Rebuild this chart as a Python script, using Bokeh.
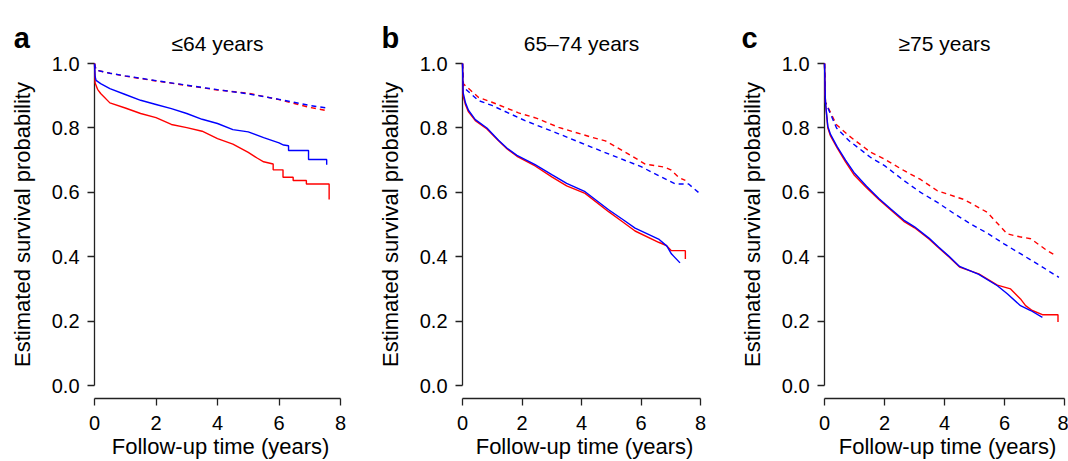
from bokeh.plotting import figure
from bokeh.layouts import row
from bokeh.models import Label, FixedTicker, Range1d, PrintfTickFormatter
from bokeh.embed import file_html
from bokeh.resources import INLINE

# ---------------- data ----------------
panel_letters = ["a", "b", "c"]
panel_titles = ["\u226464 years", "65\u201374 years", "\u226575 years"]
x_title = "Follow-up time (years)"
y_title = "Estimated survival probability"
x_ticks = [0, 2, 4, 6, 8]
y_ticks = [0.0, 0.2, 0.4, 0.6, 0.8, 1.0]

# panel a (<=64)
a_red_t = [0, 0.02, 0.1, 0.2, 0.5, 1, 1.5, 2, 2.5, 3, 3.5, 4, 4.5, 5, 5.3, 5.5, 5.81, 5.81, 6.13, 6.13, 6.46, 6.46, 6.89, 6.89, 7.63, 7.63]
a_red_s = [1.0, 0.94, 0.92, 0.907, 0.878, 0.862, 0.845, 0.832, 0.811, 0.801, 0.790, 0.767, 0.750, 0.724, 0.706, 0.695, 0.688, 0.670, 0.670, 0.647, 0.647, 0.637, 0.637, 0.626, 0.626, 0.578]
a_blue_t = [0, 0.02, 0.05, 0.2, 0.5, 1, 1.5, 2, 2.5, 3, 3.5, 4, 4.5, 5, 5.5, 6, 6.15, 6.31, 6.31, 6.96, 6.96, 7.55, 7.55]
a_blue_s = [1.0, 0.96, 0.948, 0.938, 0.922, 0.904, 0.886, 0.873, 0.860, 0.845, 0.827, 0.814, 0.795, 0.788, 0.770, 0.754, 0.747, 0.745, 0.730, 0.730, 0.702, 0.702, 0.686]
a_red_exp_t = [0, 0.05, 0.5, 1, 2, 3, 4, 5, 6, 7, 7.6]
a_red_exp_s = [1.0, 0.98, 0.97, 0.961, 0.946, 0.932, 0.918, 0.908, 0.888, 0.864, 0.853]
a_blue_exp_t = [0, 0.05, 0.5, 1, 2, 3, 4, 5, 6, 7, 7.55]
a_blue_exp_s = [1.0, 0.98, 0.97, 0.962, 0.947, 0.933, 0.919, 0.906, 0.889, 0.870, 0.862]

# panel b (65-74)
b_red_t = [0, 0.02, 0.1, 0.2, 0.43, 0.82, 1.21, 1.5, 1.83, 2.44, 3.0, 3.5, 4.12, 4.91, 5.4, 5.8, 6.59, 6.85, 7.02, 7.49, 7.49]
b_red_s = [1.0, 0.90, 0.872, 0.850, 0.823, 0.797, 0.760, 0.735, 0.712, 0.682, 0.648, 0.620, 0.597, 0.540, 0.507, 0.480, 0.445, 0.435, 0.419, 0.419, 0.393]
b_blue_t = [0, 0.02, 0.1, 0.2, 0.43, 0.82, 1.21, 1.5, 1.83, 2.44, 3.0, 3.5, 4.12, 4.91, 5.4, 5.8, 6.59, 6.87, 7.02, 7.31]
b_blue_s = [1.0, 0.91, 0.878, 0.855, 0.826, 0.800, 0.762, 0.737, 0.715, 0.686, 0.655, 0.628, 0.602, 0.546, 0.515, 0.489, 0.455, 0.433, 0.409, 0.381]
b_red_exp_t = [0, 0.03, 0.54, 0.99, 1.88, 2.5, 3.23, 4.35, 4.8, 5.47, 6.14, 6.81, 7.0, 7.26, 7.49]
b_red_exp_s = [1.0, 0.937, 0.895, 0.880, 0.847, 0.830, 0.802, 0.771, 0.760, 0.725, 0.688, 0.678, 0.670, 0.647, 0.637]
b_blue_exp_t = [0, 0.03, 0.54, 0.99, 2.1, 3.23, 4.35, 5.47, 6.0, 6.59, 7.15, 7.6, 7.93]
b_blue_exp_s = [1.0, 0.927, 0.885, 0.870, 0.823, 0.782, 0.740, 0.699, 0.680, 0.652, 0.626, 0.626, 0.600]

# panel c (>=75)
c_red_t = [0, 0.03, 0.11, 0.2, 0.42, 0.7, 0.98, 1.4, 1.81, 2.2, 2.64, 3.0, 3.48, 3.8, 4.14, 4.5, 5.14, 5.76, 6.2, 6.53, 6.7, 6.92, 7.26, 7.78, 7.78]
c_red_s = [1.0, 0.880, 0.80, 0.775, 0.738, 0.695, 0.655, 0.614, 0.578, 0.546, 0.510, 0.490, 0.455, 0.428, 0.400, 0.368, 0.347, 0.312, 0.300, 0.269, 0.248, 0.233, 0.220, 0.220, 0.197]
c_blue_t = [0, 0.03, 0.11, 0.2, 0.42, 0.7, 0.98, 1.4, 1.81, 2.2, 2.64, 3.0, 3.48, 3.8, 4.14, 4.5, 5.14, 5.76, 6.09, 6.53, 6.87, 7.26]
c_blue_s = [1.0, 0.880, 0.805, 0.780, 0.742, 0.700, 0.662, 0.619, 0.581, 0.549, 0.514, 0.493, 0.458, 0.430, 0.402, 0.370, 0.345, 0.310, 0.285, 0.248, 0.233, 0.212]
c_red_exp_t = [0, 0.03, 0.4, 0.81, 1.53, 2.0, 2.64, 3.2, 3.76, 4.64, 5.0, 5.42, 6.09, 6.5, 6.87, 7.42, 7.7]
c_red_exp_s = [1.0, 0.88, 0.81, 0.776, 0.725, 0.703, 0.668, 0.640, 0.605, 0.578, 0.560, 0.538, 0.471, 0.462, 0.456, 0.419, 0.404]
c_blue_exp_t = [0, 0.03, 0.4, 0.81, 1.53, 2.0, 2.64, 3.2, 3.76, 4.3, 4.87, 5.5, 5.98, 6.5, 7.09, 7.5, 7.81]
c_blue_exp_s = [1.0, 0.88, 0.80, 0.761, 0.709, 0.683, 0.637, 0.600, 0.569, 0.535, 0.502, 0.469, 0.440, 0.411, 0.378, 0.354, 0.336]

panels = [
    (a_red_t, a_red_s, a_blue_t, a_blue_s, a_red_exp_t, a_red_exp_s, a_blue_exp_t, a_blue_exp_s),
    (b_red_t, b_red_s, b_blue_t, b_blue_s, b_red_exp_t, b_red_exp_s, b_blue_exp_t, b_blue_exp_s),
    (c_red_t, c_red_s, c_blue_t, c_blue_s, c_red_exp_t, c_red_exp_s, c_blue_exp_t, c_blue_exp_s),
]

# ---------------- layout ----------------
FONT = "Liberation Sans"
widths = [368, 360, 340]
x_lo = [-3.057, -3.16, -3.2]
x_hi = [8.91, 8.94, 8.13]
letter_x = [-2.63, -2.72, -2.77]
RED = "#FF0000"
BLUE = "#0000FF"
H = 461
Y_LO, Y_HI = -0.236, 1.196
X_AXIS_AT = -0.0404

figs = []
for i in range(3):
    p = figure(width=widths[i], height=H,
               x_range=Range1d(x_lo[i], x_hi[i]), y_range=Range1d(Y_LO, Y_HI),
               output_backend="svg", toolbar_location=None,
               min_border_left=0, min_border_right=0,
               min_border_top=0, min_border_bottom=0)
    p.outline_line_color = None
    p.grid.visible = False
    p.background_fill_color = "white"
    p.border_fill_color = "white"

    rt, rs, bt, bs, ret, res, bet, bes = panels[i]
    p.line(ret, res, line_color=RED, line_width=1.4, line_dash="5 4", level="overlay")
    p.line(bet, bes, line_color=BLUE, line_width=1.4, line_dash="5 4", level="overlay")
    p.line(rt, rs, line_color=RED, line_width=1.4, level="overlay")
    p.line(bt, bs, line_color=BLUE, line_width=1.4, level="overlay")

    for ax in (p.xaxis[0], p.yaxis[0]):
        ax.axis_line_color = "#222222"
        ax.axis_line_width = 1.3
        ax.major_tick_line_color = "#222222"
        ax.major_tick_line_width = 1.3
        ax.major_tick_out = 7
        ax.major_tick_in = 0
        ax.minor_tick_out = 0
        ax.minor_tick_in = 0
        ax.major_label_text_font = FONT
        ax.major_label_text_font_size = "20px"
        ax.major_label_text_color = "black"
        ax.axis_label_text_font = FONT
        ax.axis_label_text_font_size = "22px"
        ax.axis_label_text_font_style = "normal"
        ax.axis_label_text_color = "black"

    p.yaxis.fixed_location = 0
    p.xaxis.fixed_location = X_AXIS_AT
    p.xaxis.bounds = (0, 8)
    p.yaxis.bounds = (0, 1)
    p.xaxis.ticker = FixedTicker(ticks=x_ticks)
    p.yaxis.ticker = FixedTicker(ticks=y_ticks)
    p.yaxis.formatter = PrintfTickFormatter(format="%.1f")
    p.yaxis.axis_label = y_title
    p.xaxis.major_label_standoff = 10
    p.yaxis.major_label_standoff = 8
    p.yaxis.axis_label_standoff = 14

    p.add_layout(Label(x=4.1, y=-0.19, text=x_title, text_align="center",
                       text_baseline="alphabetic", text_font=FONT,
                       text_font_size="22px", text_color="black"))
    p.add_layout(Label(x=4, y=1.062, text=panel_titles[i], text_align="center",
                       text_baseline="alphabetic", text_font=FONT,
                       text_font_size="21px", text_color="black"))
    p.add_layout(Label(x=letter_x[i], y=1.081, text=panel_letters[i], text_align="left",
                       text_baseline="alphabetic", text_font=FONT,
                       text_font_size="29px", text_font_style="bold", text_color="black"))
    figs.append(p)

layout = row(*figs)
open("out.html", "w").write(file_html(layout, INLINE))
